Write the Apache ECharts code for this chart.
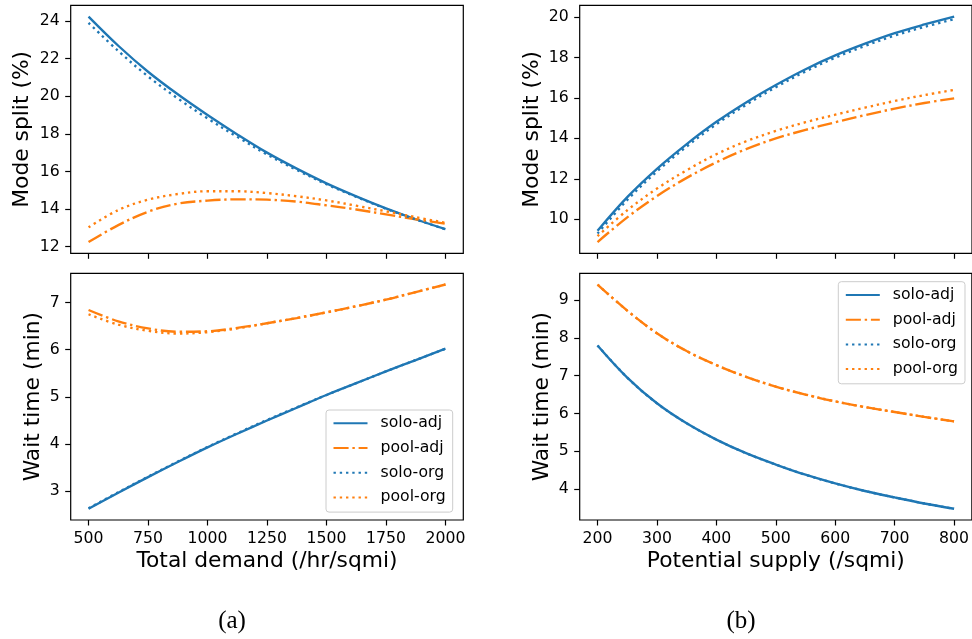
<!DOCTYPE html>
<html>
<head>
<meta charset="utf-8">
<script src="https://cdn.jsdelivr.net/npm/echarts@6/dist/echarts.min.js"></script>
<style>html,body{margin:0;padding:0;background:#fff}#c{width:972px;height:639px}</style>
</head>
<body>
<div id="c"></div>
<script>
// ---------- data ----------
const demand = [500, 625, 750, 875, 1000, 1125, 1250, 1375, 1500, 1625, 1750, 1875, 2000];
const supply = [200, 250, 300, 350, 400, 450, 500, 550, 600, 650, 700, 750, 800];

const seriesNames = ['solo-adj', 'pool-adj', 'solo-org', 'pool-org'];

const modeA_soloAdj = [24.23, 22.68, 21.3, 20.1, 19.0, 17.97, 17.0, 16.15, 15.37, 14.68, 14.04, 13.46, 12.93];
const modeA_poolAdj = [12.25, 13.15, 13.86, 14.29, 14.45, 14.52, 14.5, 14.4, 14.2, 13.98, 13.72, 13.46, 13.22];
const modeA_soloOrg = [23.9, 22.4, 21.05, 19.88, 18.82, 17.84, 16.9, 16.08, 15.32, 14.65, 14.02, 13.45, 12.92];
const modeA_poolOrg = [13.03, 13.95, 14.5, 14.8, 14.95, 14.95, 14.85, 14.68, 14.46, 14.18, 13.88, 13.57, 13.27];

const waitA_soloAdj = [2.63, 2.97, 3.3, 3.62, 3.93, 4.22, 4.5, 4.77, 5.04, 5.29, 5.54, 5.78, 6.02];
const waitA_poolAdj = [6.84, 6.6, 6.45, 6.38, 6.39, 6.46, 6.56, 6.67, 6.79, 6.92, 7.06, 7.22, 7.38];
const waitA_soloOrg = [2.64, 2.98, 3.31, 3.63, 3.94, 4.23, 4.51, 4.78, 5.04, 5.29, 5.54, 5.78, 6.02];
const waitA_poolOrg = [6.75, 6.53, 6.4, 6.34, 6.37, 6.45, 6.56, 6.67, 6.79, 6.92, 7.06, 7.22, 7.38];

const modeB_soloAdj = [9.44, 11.1, 12.5, 13.72, 14.82, 15.78, 16.64, 17.42, 18.1, 18.68, 19.2, 19.63, 20.02];
const modeB_poolAdj = [8.88, 10.1, 11.15, 12.05, 12.82, 13.47, 14.0, 14.42, 14.8, 15.15, 15.47, 15.75, 15.98];
const modeB_soloOrg = [9.3, 10.96, 12.37, 13.6, 14.7, 15.66, 16.53, 17.31, 17.99, 18.57, 19.08, 19.51, 19.89];
const modeB_poolOrg = [9.17, 10.45, 11.52, 12.43, 13.22, 13.86, 14.37, 14.8, 15.17, 15.52, 15.85, 16.14, 16.4];

const waitB_soloAdj = [7.8, 6.95, 6.27, 5.74, 5.31, 4.95, 4.65, 4.38, 4.15, 3.95, 3.78, 3.62, 3.48];
const waitB_poolAdj = [9.41, 8.72, 8.12, 7.65, 7.28, 6.97, 6.71, 6.5, 6.32, 6.17, 6.04, 5.91, 5.79];
const waitB_soloOrg = [7.8, 6.95, 6.27, 5.74, 5.31, 4.95, 4.65, 4.38, 4.15, 3.95, 3.78, 3.62, 3.48];
const waitB_poolOrg = [9.41, 8.72, 8.12, 7.65, 7.28, 6.97, 6.71, 6.5, 6.32, 6.17, 6.04, 5.91, 5.79];

const demandTicks = [500, 750, 1000, 1250, 1500, 1750, 2000];
const supplyTicks = [200, 300, 400, 500, 600, 700, 800];
const modeATicks = [12, 14, 16, 18, 20, 22, 24];
const waitATicks = [3, 4, 5, 6, 7];
const modeBTicks = [10, 12, 14, 16, 18, 20];
const waitBTicks = [4, 5, 6, 7, 8, 9];

const xLabelA = 'Total demand (/hr/sqmi)';
const xLabelB = 'Potential supply (/sqmi)';
const yLabelMode = 'Mode split (%)';
const yLabelWait = 'Wait time (min)';
const captions = ['(a)', '(b)'];

// ---------- styling ----------
const BLUE = '#1f77b4', ORANGE = '#ff7f0e';
const LW = 2.36;
const FONT = 'DejaVu Sans';
const styles = {
  'solo-adj': { color: BLUE, type: 'solid' },
  'pool-adj': { color: ORANGE, type: [15.1, 3.8, 2.4, 3.8] },
  'solo-org': { color: BLUE, type: [2.36, 3.9] },
  'pool-org': { color: ORANGE, type: [2.36, 3.9] }
};

function range(arrs) {
  let lo = Infinity, hi = -Infinity;
  arrs.forEach(a => a.forEach(v => { lo = Math.min(lo, v); hi = Math.max(hi, v); }));
  const m = (hi - lo) * 0.05;
  return [lo - m, hi + m];
}

const panels = [
  { grid: { left: 70.7, top: 5.3, width: 392.6, height: 248 }, xs: demand, xt: demandTicks, yt: modeATicks,
    ys: [modeA_soloAdj, modeA_poolAdj, modeA_soloOrg, modeA_poolOrg], xName: '', yName: yLabelMode, yGap: 37 },
  { grid: { left: 70.7, top: 273.3, width: 392.6, height: 246.7 }, xs: demand, xt: demandTicks, yt: waitATicks,
    ys: [waitA_soloAdj, waitA_poolAdj, waitA_soloOrg, waitA_poolOrg], xName: xLabelA, yName: yLabelWait, yGap: 26 },
  { grid: { left: 579.7, top: 5.3, width: 396, height: 248 }, xs: supply, xt: supplyTicks, yt: modeBTicks,
    ys: [modeB_soloAdj, modeB_poolAdj, modeB_soloOrg, modeB_poolOrg], xName: '', yName: yLabelMode, yGap: 36 },
  { grid: { left: 579.7, top: 273.3, width: 396, height: 246.7 }, xs: supply, xt: supplyTicks, yt: waitBTicks,
    ys: [waitB_soloAdj, waitB_poolAdj, waitB_soloOrg, waitB_poolOrg], xName: xLabelB, yName: yLabelWait, yGap: 26 }
];

const plain = v => String(v);
const grid = [], xAxis = [], yAxis = [], series = [];
panels.forEach((p, i) => {
  grid.push(Object.assign({ show: true, borderColor: '#000', borderWidth: 1.2, backgroundColor: 'transparent' }, p.grid));
  const xr = range([p.xs]);
  const yr = range(p.ys);
  const tick = { show: true, inside: false, length: 5.5, lineStyle: { color: '#000', width: 1.2 } };
  xAxis.push({
    type: 'value', gridIndex: i, min: xr[0], max: xr[1],
    axisLine: { show: false }, splitLine: { show: false },
    axisTick: Object.assign({ customValues: p.xt }, tick),
    axisLabel: { show: p.xName !== '', customValues: p.xt, formatter: plain, margin: 11, fontSize: 15.7, fontFamily: FONT, color: '#000' },
    name: p.xName, nameLocation: 'middle', nameGap: 30,
    nameTextStyle: { fontSize: 21.8, fontFamily: FONT, color: '#000' }
  });
  yAxis.push({
    type: 'value', gridIndex: i, min: yr[0], max: yr[1],
    axisLine: { show: false }, splitLine: { show: false },
    axisTick: Object.assign({ customValues: p.yt }, tick),
    axisLabel: { customValues: p.yt, formatter: plain, margin: 11, fontSize: 15.7, fontFamily: FONT, color: '#000' },
    name: p.yName, nameLocation: 'middle', nameGap: p.yGap, nameRotate: 90,
    nameTextStyle: { fontSize: 21.8, fontFamily: FONT, color: '#000' }
  });
  seriesNames.forEach((nm, k) => {
    series.push({
      type: 'line', name: nm, xAxisIndex: i, yAxisIndex: i,
      data: p.xs.map((x, j) => [x, p.ys[k][j]]),
      smooth: 0.35, symbol: 'none', animation: false,
      lineStyle: { color: styles[nm].color, width: LW, type: styles[nm].type, cap: 'butt' },
      itemStyle: { color: styles[nm].color }
    });
  });
});

const legendBase = {
  orient: 'vertical', data: seriesNames, itemWidth: 34, itemHeight: 16, itemGap: 8.7,
  padding: [5.3, 7, 6.7, 6.5], selectedMode: false,
  itemStyle: { opacity: 0, borderWidth: 0 },
  textStyle: { fontSize: 15.7, fontFamily: FONT, color: '#000', lineHeight: 16, padding: [0, 0, 0, 8] },
  backgroundColor: 'rgba(255,255,255,0.8)', borderColor: '#cccccc', borderWidth: 1, borderRadius: 3
};

const option = {
  animation: false,
  grid, xAxis, yAxis, series,
  legend: [
    Object.assign({ left: 326, top: 410 }, legendBase),
    Object.assign({ left: 838.3, top: 281.7 }, legendBase)
  ],
  graphic: [
    { type: 'text', x: 232, y: 621, style: { text: captions[0], font: '25px "Liberation Serif"', fill: '#000', textAlign: 'center', textVerticalAlign: 'middle' } },
    { type: 'text', x: 741, y: 621, style: { text: captions[1], font: '25px "Liberation Serif"', fill: '#000', textAlign: 'center', textVerticalAlign: 'middle' } }
  ]
};

const chart = echarts.init(document.getElementById('c'), null, { renderer: 'canvas' });
chart.setOption(option);
</script>
</body>
</html>
